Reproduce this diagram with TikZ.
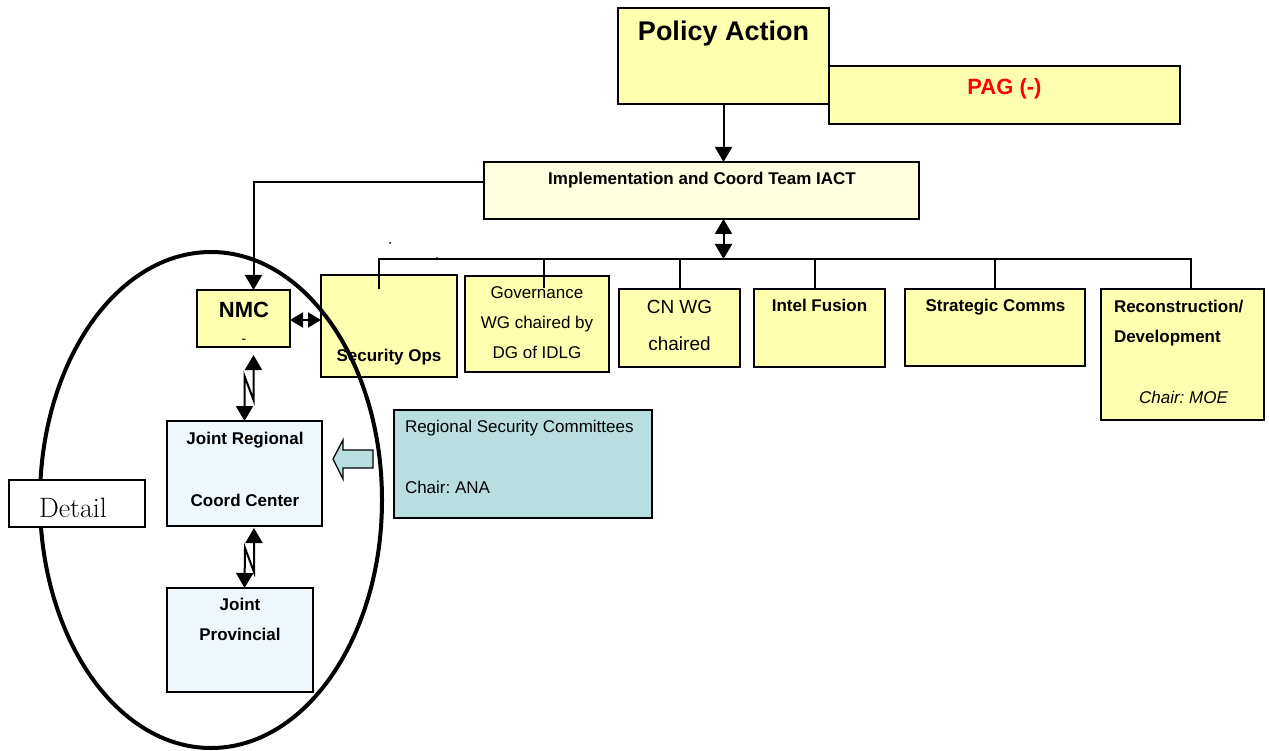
\documentclass[tikz,border=0pt]{standalone}
\usepackage{fontspec}
\newfontfamily\arial{Liberation Sans}
\usetikzlibrary{arrows.meta,calc}
\definecolor{yfill}{HTML}{FFFFB0}
\definecolor{ifill}{HTML}{FFFFE0}
\definecolor{bfill}{HTML}{F0F8FF}
\definecolor{tfill}{HTML}{B8DEE0}
\newcommand\fs[1]{\fontsize{#1}{#1}\selectfont}
\frenchspacing
\begin{document}
\begin{tikzpicture}[x=1pt,y=-1pt,
  boxbase/.style={draw=black, line width=1.8pt, inner sep=0pt, outer sep=0pt},
  ybox/.style={boxbase, fill=yfill},
  ibox/.style={boxbase, fill=ifill},
  bbox/.style={boxbase, fill=bfill},
  tbox/.style={boxbase, fill=tfill},
  lab/.style={anchor=base, inner sep=0pt, outer sep=0pt, text=black},
  rt/.style={lab, font=\arial\fs{17}},
  bt/.style={lab, font=\arial\bfseries\fs{17}},
  conn/.style={draw=black, line width=2pt},
  bus/.style={draw=black, line width=1.6pt},
  tip/.tip={Triangle[width=17pt,length=15pt]},
  stip/.tip={Triangle[width=15pt,length=13pt]},
  sarr/.style={conn, -tip},
  darr/.style={conn, tip-tip},
]
\useasboundingbox (0,0) rectangle (1269,751);

% boxes
\node[ybox, minimum width=211pt, minimum height=96pt] (pa) at (723.5,56) {};
\node[ybox, minimum width=351pt, minimum height=58pt] (pag) at (1004.5,95) {};
\node[ibox, minimum width=435pt, minimum height=57pt] (iact) at (701.5,190.5) {};
\node[ybox, minimum width=93pt, minimum height=57pt] (nmc) at (243.5,318.5) {};
\node[ybox, minimum width=136pt, minimum height=102pt] (secops) at (389,326) {};
\node[ybox, minimum width=144pt, minimum height=96pt] (gov) at (537,324) {};
\node[ybox, minimum width=121pt, minimum height=78pt] (cnwg) at (679.5,328) {};
\node[ybox, minimum width=131pt, minimum height=78pt] (intel) at (819.5,328) {};
\node[ybox, minimum width=180pt, minimum height=77pt] (strat) at (995,327.5) {};
\node[ybox, minimum width=163pt, minimum height=131pt] (recon) at (1182.5,354.5) {};
\node[bbox, minimum width=155pt, minimum height=105pt] (jrcc) at (244.5,473.5) {};
\node[bbox, minimum width=146pt, minimum height=104pt] (prov) at (240,640) {};
\node[tbox, minimum width=258pt, minimum height=108pt] (rsc) at (523,464) {};

% texts
\node[lab, font=\arial\bfseries\fs{27}] (tpa) at (723.5,41) {Policy Action};
\node[lab, font=\arial\bfseries\fs{22}, text=red] (tpag) at (1004.5,94.5) {PAG (-)};
\node[bt] (tiact) at (702,185) {Implementation and Coord Team IACT};
\node[lab, font=\arial\bfseries\fs{22}] (tnmc) at (244,317) {NMC};
\node[lab, font=\arial\fs{14}] (tnmcd) at (244,344) {-};
\node[bt] (tsec) at (389,361) {Security Ops};
\node[rt] (tg1) at (537,299) {Governance};
\node[rt] (tg2) at (537,329) {WG chaired by};
\node[rt] (tg3) at (537,359) {DG of IDLG};
\node[lab, font=\arial\fs{19}] (tcn1) at (679.5,314) {CN WG};
\node[lab, font=\arial\fs{19}] (tcn2) at (679.5,350) {chaired};
\node[bt] (tint) at (819.5,312) {Intel Fusion};
\node[bt] (tstr) at (995.5,312) {Strategic Comms};
\node[bt, anchor=base west] (trc1) at (1114,312.5) {Reconstruction/};
\node[bt, anchor=base west] (trc2) at (1114,342) {Development};
\node[lab, font=\arial\itshape\fs{17}] (trc3) at (1183.5,403) {Chair: MOE};
\node[rt, anchor=base west] (trs1) at (405,432) {Regional Security Committees};
\node[rt, anchor=base west] (trs2) at (405,493) {Chair: ANA};
\node[bt] (tj1) at (245,444) {Joint Regional};
\node[bt] (tj2) at (245,506) {Coord Center};
\node[bt] (tp1) at (240,610) {Joint};
\node[bt] (tp2) at (240,640) {Provincial};

% connectors
\coordinate (busL) at (379,259);
\coordinate (busR) at (1191,259);
\coordinate (d2) at (544,259);
\coordinate (d3) at (680,259);
\coordinate (d4) at (815,259);
\coordinate (d5) at (995,259);
\coordinate (c1) at (484,182);

\draw[sarr] (pa.south) -- (pa.south |- iact.north);
\draw[darr] (pa.south |- iact.south) -- (pa.south |- busL);
\draw[bus] ($(busL)+(0,30)$) -- (busL) -- (busR) -- (busR |- recon.north);
\draw[bus] (d2) -- ($(d2)+(0,29)$);
\draw[bus] (d3) -- (d3 |- cnwg.north);
\draw[bus] (d4) -- (d4 |- intel.north);
\draw[bus] (d5) -- (d5 |- strat.north);
\fill (390,243) circle (1pt);
\fill (437,258) circle (1pt);

\draw[sarr] (c1) -| ($(nmc.north)+(10,0)$);
\draw[conn, stip-stip] (nmc.east) ++(0,1.5) -- ($(secops.west |- nmc.east)+(0,1.5)$);
\draw[darr] ($(nmc.south)+(10,8)$) -- ++(0,45) -- ++(-9,-24) -- (jrcc.north);
\draw[darr] ($(jrcc.south)+(9.5,2)$) -- ++(0,44) -- ++(-9,-24) -- ($(prov.north)+(4.5,0)$);

% block arrow
\draw[line width=1.3pt, fill=tfill] (333,459) -- (343,440) -- (343,450) -- (373,450) -- (373,468) -- (343,468) -- (343,479) -- cycle;

% ellipse
\draw[line width=4pt] (211,500) ellipse [x radius=171pt, y radius=248pt];

% detail
\node[boxbase, fill=white, line width=1.4pt, minimum width=136pt, minimum height=47pt] (det) at (77,503.5) {};
\node[lab, font=\fs{28}] (tdet) at (73,517) {Detail};
\end{tikzpicture}
\end{document}
